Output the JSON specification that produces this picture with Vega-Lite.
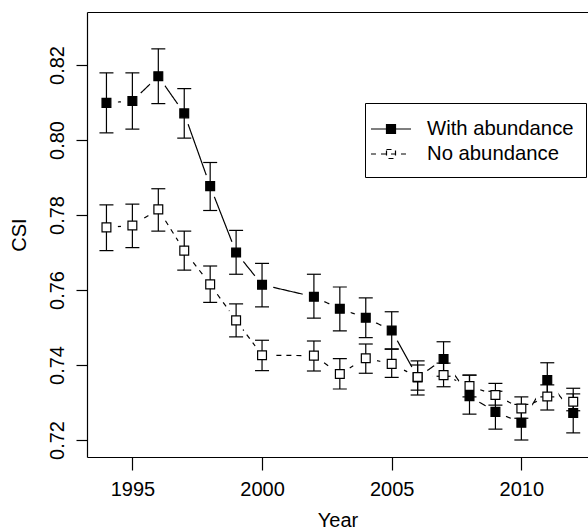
{
  "$schema": "https://vega.github.io/schema/vega-lite/v6.json",
  "width": 501,
  "height": 445,
  "autosize": {"type": "none"},
  "padding": {"left": 87, "top": 12, "right": 0, "bottom": 72},
  "background": "white",
  "config": {
    "font": "Liberation Sans",
    "view": {"stroke": null},
    "axis": {"grid": false, "domainColor": "black", "tickColor": "black", "labelColor": "black", "titleColor": "black", "labelFontSize": 20, "titleFontSize": 20, "titleFontWeight": "normal", "domainWidth": 1.2, "tickWidth": 1.2}
  },
  "data": {
    "values": [
      {"year": 1994, "series": "With abundance", "csi": 0.8099, "lo": 0.8019, "hi": 0.8179},
      {"year": 1995, "series": "With abundance", "csi": 0.8104, "lo": 0.8029, "hi": 0.8179},
      {"year": 1996, "series": "With abundance", "csi": 0.8170, "lo": 0.8097, "hi": 0.8243},
      {"year": 1997, "series": "With abundance", "csi": 0.8071, "lo": 0.8005, "hi": 0.8137},
      {"year": 1998, "series": "With abundance", "csi": 0.7877, "lo": 0.7812, "hi": 0.7940},
      {"year": 1999, "series": "With abundance", "csi": 0.7700, "lo": 0.7642, "hi": 0.7759},
      {"year": 2000, "series": "With abundance", "csi": 0.7614, "lo": 0.7555, "hi": 0.7671},
      {"year": 2002, "series": "With abundance", "csi": 0.7582, "lo": 0.7525, "hi": 0.7642},
      {"year": 2003, "series": "With abundance", "csi": 0.7550, "lo": 0.7491, "hi": 0.7608},
      {"year": 2004, "series": "With abundance", "csi": 0.7526, "lo": 0.7473, "hi": 0.7579},
      {"year": 2005, "series": "With abundance", "csi": 0.7492, "lo": 0.7443, "hi": 0.7542},
      {"year": 2006, "series": "With abundance", "csi": 0.7367, "lo": 0.7320, "hi": 0.7411},
      {"year": 2007, "series": "With abundance", "csi": 0.7416, "lo": 0.7370, "hi": 0.7462},
      {"year": 2008, "series": "With abundance", "csi": 0.7317, "lo": 0.7269, "hi": 0.7373},
      {"year": 2009, "series": "With abundance", "csi": 0.7275, "lo": 0.7229, "hi": 0.7330},
      {"year": 2010, "series": "With abundance", "csi": 0.7246, "lo": 0.7200, "hi": 0.7295},
      {"year": 2011, "series": "With abundance", "csi": 0.7360, "lo": 0.7315, "hi": 0.7406},
      {"year": 2012, "series": "With abundance", "csi": 0.7272, "lo": 0.7219, "hi": 0.7323},
      {"year": 1994, "series": "No abundance", "csi": 0.7767, "lo": 0.7705, "hi": 0.7827},
      {"year": 1995, "series": "No abundance", "csi": 0.7772, "lo": 0.7713, "hi": 0.7829},
      {"year": 1996, "series": "No abundance", "csi": 0.7815, "lo": 0.7757, "hi": 0.7870},
      {"year": 1997, "series": "No abundance", "csi": 0.7705, "lo": 0.7653, "hi": 0.7757},
      {"year": 1998, "series": "No abundance", "csi": 0.7615, "lo": 0.7567, "hi": 0.7664},
      {"year": 1999, "series": "No abundance", "csi": 0.7519, "lo": 0.7475, "hi": 0.7563},
      {"year": 2000, "series": "No abundance", "csi": 0.7426, "lo": 0.7385, "hi": 0.7466},
      {"year": 2002, "series": "No abundance", "csi": 0.7425, "lo": 0.7384, "hi": 0.7464},
      {"year": 2003, "series": "No abundance", "csi": 0.7376, "lo": 0.7336, "hi": 0.7417},
      {"year": 2004, "series": "No abundance", "csi": 0.7418, "lo": 0.7378, "hi": 0.7456},
      {"year": 2005, "series": "No abundance", "csi": 0.7403, "lo": 0.7367, "hi": 0.7442},
      {"year": 2006, "series": "No abundance", "csi": 0.7368, "lo": 0.7333, "hi": 0.7400},
      {"year": 2007, "series": "No abundance", "csi": 0.7373, "lo": 0.7342, "hi": 0.7405},
      {"year": 2008, "series": "No abundance", "csi": 0.7344, "lo": 0.7315, "hi": 0.7373},
      {"year": 2009, "series": "No abundance", "csi": 0.7320, "lo": 0.7293, "hi": 0.7351},
      {"year": 2010, "series": "No abundance", "csi": 0.7284, "lo": 0.7258, "hi": 0.7315},
      {"year": 2011, "series": "No abundance", "csi": 0.7316, "lo": 0.7280, "hi": 0.7347},
      {"year": 2012, "series": "No abundance", "csi": 0.7302, "lo": 0.7278, "hi": 0.7338}
    ]
  },
  "resolve": {"axis": {"x": "independent"}},
  "layer": [
    {
      "mark": {"type": "line", "color": "black", "strokeWidth": 1.2},
      "encoding": {
        "x": {"field": "year", "type": "quantitative", "scale": {"domain": [1993.25, 2012.57], "nice": false, "zero": false},
          "axis": {"values": [1995, 2000, 2005, 2010], "format": "d", "title": "Year", "tickSize": 13, "labelPadding": 25, "labelBaseline": "alphabetic", "titleBaseline": "alphabetic", "titleY": 69}},
        "y": {"field": "csi", "type": "quantitative", "scale": {"domain": [0.71547, 0.83413], "nice": false, "zero": false},
          "axis": {"values": [0.72, 0.74, 0.76, 0.78, 0.8, 0.82], "format": ".2f", "title": "CSI", "tickSize": 11, "labelAngle": -90, "labelAlign": "center", "labelBaseline": "alphabetic", "labelPadding": 13, "titleBaseline": "alphabetic", "titleX": -62}},
        "strokeDash": {"field": "series", "type": "nominal",
          "scale": {"domain": ["With abundance", "No abundance"], "range": [[1, 0], [5, 5]]},
          "legend": {
            "orient": "none", "legendX": 278, "legendY": 91, "title": null,
            "strokeColor": "black", "fillColor": "white", "padding": 12, "cornerRadius": 0,
            "symbolType": "M-1.54,0H1.54M-0.346,-0.346H0.346V0.346H-0.346Z",
            "symbolSize": 676, "symbolStrokeColor": "black", "symbolStrokeWidth": 1.2,
            "labelFontSize": 20.3, "labelColor": "black", "labelOffset": 22, "rowPadding": 0,
            "encode": {"symbols": {"update": {
              "fill": {"signal": "datum.value === 'With abundance' ? 'black' : 'transparent'"},
              "stroke": {"value": "black"},
              "strokeWidth": {"value": 1.2},
              "opacity": {"value": 1},
              "strokeOpacity": {"value": 1}
            }}}
          }}
      }
    },
    {
      "mark": {"type": "point", "shape": "circle", "filled": true, "color": "white", "opacity": 1, "size": 530},
      "encoding": {
        "x": {"field": "year", "type": "quantitative", "axis": {"orient": "top", "labels": false, "ticks": false, "title": null, "domain": true}},
        "y": {"field": "csi", "type": "quantitative"}
      }
    },
    {
      "mark": {"type": "rule", "color": "black", "strokeWidth": 1.2},
      "encoding": {
        "x": {"field": "year", "type": "quantitative", "axis": null},
        "y": {"field": "lo", "type": "quantitative"},
        "y2": {"field": "hi"}
      }
    },
    {
      "mark": {"type": "tick", "orient": "horizontal", "color": "black", "size": 14, "thickness": 1.2, "opacity": 1},
      "encoding": {
        "x": {"field": "year", "type": "quantitative", "axis": null},
        "y": {"field": "lo", "type": "quantitative"}
      }
    },
    {
      "mark": {"type": "tick", "orient": "horizontal", "color": "black", "size": 14, "thickness": 1.2, "opacity": 1},
      "encoding": {
        "x": {"field": "year", "type": "quantitative", "axis": null},
        "y": {"field": "hi", "type": "quantitative"}
      }
    },
    {
      "mark": {"type": "point", "shape": "square", "filled": true, "stroke": "black", "strokeWidth": 1.2, "opacity": 1, "size": 78},
      "encoding": {
        "x": {"field": "year", "type": "quantitative", "axis": null},
        "y": {"field": "csi", "type": "quantitative"},
        "fill": {"field": "series", "type": "nominal", "scale": {"domain": ["With abundance", "No abundance"], "range": ["black", "white"]}, "legend": null}
      }
    }
  ]
}
